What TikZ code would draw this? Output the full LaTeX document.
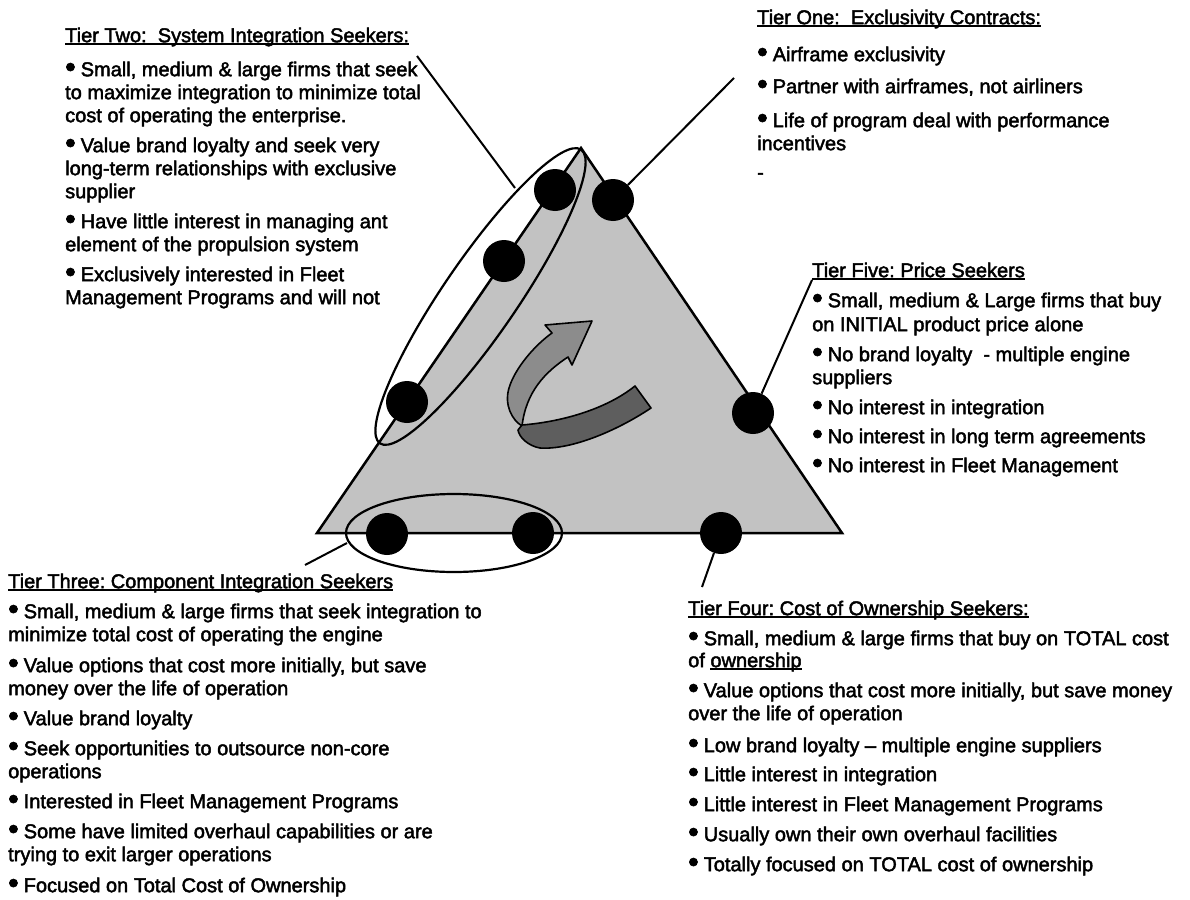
\documentclass[tikz,border=0pt]{standalone}
\usepackage{fontspec}
\setmainfont{Liberation Sans}[RawFeature={embolden=2.2}]
\usetikzlibrary{shapes.geometric}
% underline sitting just below the baseline
\newcommand\tierul[1]{\setbox0=\hbox{#1}\rlap{\rule[-2.6pt]{\wd0}{1.5pt}}\box0}
% raised list bullet followed by a space
\newcommand\bul{\makebox[10pt][l]{\raisebox{-0.8pt}{\fontsize{30}{30}\selectfont\textbullet}}\ }
\frenchspacing
\begin{document}
\begin{tikzpicture}[x=1pt,y=-1pt,
  txt/.style={anchor=north west, inner sep=0pt, align=left, font=\fontsize{20}{23}\selectfont},
  dot/.style={circle, fill=black, minimum size=42pt, inner sep=0pt},
  ring/.style={ellipse, draw=black, line width=2.2pt, inner sep=0pt},
  lead/.style={draw=black, line width=2pt},
  lightface/.style={fill=black!45, draw=black, line width=1.6pt, line join=round},
  darkband/.style={fill=black!63, draw=black, line width=1.6pt, line join=round}]
\useasboundingbox (0,0) rectangle (1190,899);

% the market triangle
\coordinate (triL) at (317,533);
\coordinate (triT) at (581,148);
\coordinate (triR) at (842,533);
\filldraw[fill=black!24, draw=black, line width=2.5pt] (triL) -- (triT) -- (triR) -- cycle;

% curved migration arrow
\filldraw[lightface] (545,325) -- (592,321) -- (572,365) -- (568,357)
  .. controls (545,372) and (526,392) .. (522,426)
  .. controls (512,420) and (504,405) .. (509,388)
  .. controls (515,368) and (535,345) .. (552,333) -- cycle;
\filldraw[darkband] (522,425) .. controls (560,422) and (605,410) .. (635,386)
  -- (651,408) .. controls (615,432) and (570,450) .. (540,448)
  .. controls (528,446) and (519,437) .. (518,430) -- cycle;

% groupings
\node[ring, minimum width=356pt, minimum height=74pt, rotate=55.6] (grpTwo) at (480.5,296.5) {};
\node[ring, minimum width=216pt, minimum height=78pt] (grpThree) at (454,533) {};

% segment markers
\node[dot] (cTwoA) at (555,190) {};
\node[dot] (cTwoB) at (504,261) {};
\node[dot] (cTwoC) at (407,402) {};
\node[dot] (cOne) at (613,200) {};
\node[dot] (cFive) at (753,413) {};
\node[dot] (cThreeA) at (387,534) {};
\node[dot] (cThreeB) at (533,533) {};
\node[dot] (cFour) at (721,533) {};

% leader lines
\coordinate (t2a) at (417,56);
\coordinate (t2b) at (515,188);
\draw[lead] (t2a) -- (t2b);
\coordinate (t1a) at (734,78);
\draw[lead] (t1a) -- (cOne);
\coordinate (t5a) at (812,280);
\draw[lead] (t5a) -- (cFive);
\coordinate (t3a) at (305,565);
\coordinate (t3b) at (347,543);
\draw[lead] (t3a) -- (t3b);
\coordinate (t4a) at (702,587);
\draw[lead] (t4a) -- (cFour);

% tier descriptions
\node[txt] (tierTwo) at (65,24) {\rule{0pt}{18pt}\tierul{Tier Two:\ \ System Integration Seekers:}\\[11pt]
\bul Small, medium \& large firms that seek\\
to maximize integration to minimize total\\
cost of operating the enterprise.\\[7pt]
\bul Value brand loyalty and seek very\\
long-term relationships with exclusive\\
supplier\\[7pt]
\bul Have little interest in managing ant\\
element of the propulsion system\\[7pt]
\bul Exclusively interested in Fleet\\
Management Programs and will not};

\node[txt] (tierOne) at (757,6) {\rule{0pt}{18pt}\tierul{Tier One:\ \ Exclusivity Contracts:}\\[14pt]
\bul Airframe exclusivity\\[9pt]
\bul Partner with airframes, not airliners\\[11pt]
\bul Life of program deal with performance\\
incentives\\[6pt]
-};

\node[txt] (tierFive) at (812,259) {\rule{0pt}{18pt}\tierul{Tier Five: Price Seekers}\\[7pt]
\bul Small, medium \& Large firms that buy\\[1pt]
on INITIAL product price alone\\[7pt]
\bul No brand loyalty\ \ - multiple engine\\
suppliers\\[7pt]
\bul No interest in integration\\[6pt]
\bul No interest in long term agreements\\[6pt]
\bul No interest in Fleet Management};

\node[txt] (tierThree) at (8,570) {\rule{0pt}{18pt}\tierul{Tier Three: Component Integration Seekers}\\[7pt]
\bul Small, medium \& large firms that seek integration to\\
minimize total cost of operating the engine\\[8pt]
\bul Value options that cost more initially, but save\\
money over the life of operation\\[7pt]
\bul Value brand loyalty\\[7pt]
\bul Seek opportunities to outsource non-core\\
operations\\[7pt]
\bul Interested in Fleet Management Programs\\[7pt]
\bul Some have limited overhaul capabilities or are\\
trying to exit larger operations\\[8pt]
\bul Focused on Total Cost of Ownership};

\node[txt] (tierFour) at (688,597) {\rule{0pt}{18pt}\tierul{Tier Four: Cost of Ownership Seekers:}\\[7pt]
\bul Small, medium \& large firms that buy on TOTAL cost\\[-1pt]
of \tierul{ownership}\\[7pt]
\bul Value options that cost more initially, but save money\\
over the life of operation\\[9pt]
\bul Low brand loyalty -- multiple engine suppliers\\[6pt]
\bul Little interest in integration\\[7pt]
\bul Little interest in Fleet Management Programs\\[7pt]
\bul Usually own their own overhaul facilities\\[7pt]
\bul Totally focused on TOTAL cost of ownership};
\end{tikzpicture}
\end{document}
